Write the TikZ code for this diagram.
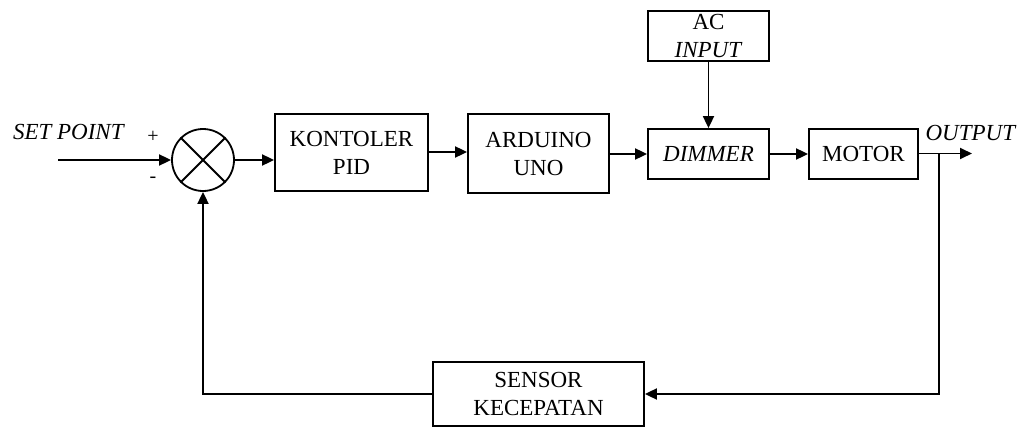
\documentclass[tikz,border=0pt]{standalone}
\usepackage{fontspec}
\setmainfont{Liberation Serif}
\usetikzlibrary{arrows.meta}
\begin{document}
\begin{tikzpicture}[x=1pt,y=-1pt,
  line width=1.8pt,
  every node/.style={font=\fontsize{23}{28}\selectfont},
  block/.style={draw, rectangle, inner sep=0pt, align=center, line width=1.8pt},
  flow/.style={-{Triangle[length=12pt,width=11pt]}, line width=1.8pt},
  lbl/.style={inner sep=0pt}
]
\useasboundingbox (0,0) rectangle (1021,428);

% blocks
\node[block, minimum width=153pt, minimum height=77pt] (pid) at (351.5,152.5) {KONTOLER\\PID};
\node[block, minimum width=141pt, minimum height=79pt] (ard) at (538.5,153.5) {ARDUINO\\UNO};
\node[block, minimum width=121pt, minimum height=50pt] (ac) at (708.5,36) {AC\\\textit{INPUT}};
\node[block, minimum width=121pt, minimum height=50pt] (dim) at (708.5,154) {\textit{DIMMER}};
\node[block, minimum width=109pt, minimum height=50pt] (mot) at (863.5,154) {MOTOR};
\node[block, minimum width=211pt, minimum height=64pt] (sen) at (538.5,394) {SENSOR\\KECEPATAN};

% summing junction
\node[draw, circle, minimum size=62pt, inner sep=0pt, line width=1.8pt] (sum) at (203,160) {};
\draw (sum.north east) -- (sum.south west);
\draw (sum.north west) -- (sum.south east);

% labels
\node[lbl] (sptxt) at (69,132) {\textit{SET POINT}};
\node[lbl] (plus) at (153,137) {\fontsize{20}{22}\selectfont +};
\node[lbl] (minus) at (153,180) {\fontsize{20}{22}\selectfont -};
\node[lbl] (outtxt) at (971,133) {\textit{OUTPUT}};

% free ends
\coordinate (sp) at (58,160);
\coordinate (br) at (939,153.5);
\coordinate (out) at (972,153.5);

% forward path
\draw[flow] (sp) -- (sum.west);
\draw[flow] (sum.east) -- (sum.east -| pid.west);
\draw[flow] (pid.east |- 0,152) -- (ard.west |- 0,152);
\draw[flow] (ard.east |- dim.west) -- (dim.west);
\draw[flow] (ac.south) -- (dim.north);
\draw[flow] (dim.east) -- (mot.west);
\draw[flow] (mot.east |- br) -- (out);

% feedback path
\draw[flow] (br) |- (sen.east);
\draw[flow] (sen.west) -| (sum.south);
\end{tikzpicture}
\end{document}
